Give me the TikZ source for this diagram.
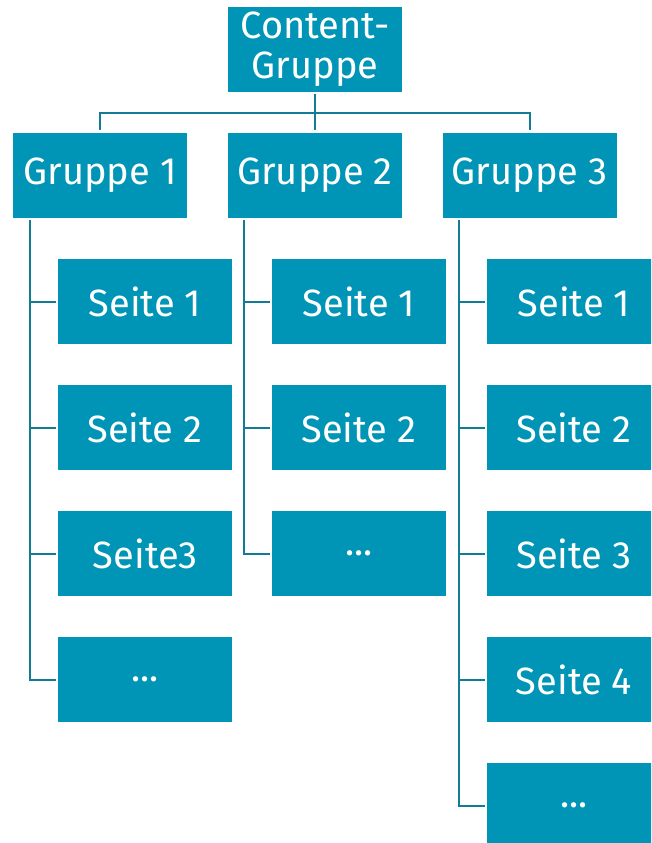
\documentclass[tikz,border=0pt]{standalone}
\usepackage{fontspec}
\setmainfont{Fira Sans}
\definecolor{boxfill}{RGB}{0,149,182}
\definecolor{linecol}{RGB}{18,124,150}
\begin{document}
\begin{tikzpicture}[x=1pt,y=-1pt,
  box/.style={rectangle, fill=boxfill, text=white, minimum width=174pt, minimum height=85pt,
    inner sep=0pt, font=\fontsize{38}{40}\selectfont, align=center},
  conn/.style={draw=linecol, line width=2pt}]
\useasboundingbox (0,0) rectangle (651,843);
\clip (0,0) rectangle (651,843);
\node[box] (cg) at (315,49.5) {Content-\\Gruppe};
\node[box] (g1) at (100,175) {Gruppe 1};
\node[box] (g2) at (315,175) {Gruppe 2};
\node[box] (g3) at (529.5,175) {Gruppe 3};
% column 1
\node[box] (a1) at (145,301.5) {Seite 1};
\node[box] (a2) at (145,427.5) {Seite 2};
\node[box] (a3) at (145,553.5) {Seite3};
\node[box] (a4) at (145,679.5) {...};
% column 2
\node[box] (b1) at (359,301.5) {Seite 1};
\node[box] (b2) at (359,427.5) {Seite 2};
\node[box] (b3) at (359,553.5) {...};
% column 3
\node[box] (c1) at (574,301.5) {Seite 1};
\node[box] (c2) at (574,427.5) {Seite 2};
\node[box] (c3) at (574,553.5) {Seite 3};
\node[box] (c4) at (574,679.5) {Seite 4};
\node[box] (c5) at (574,805.5) {...};
% top connectors
\coordinate (bar) at (315,113);
\draw[conn, shorten <=2pt] (cg.south) -- (bar);
\draw[conn, shorten >=2pt] (bar) -| (g1.north);
\draw[conn, shorten >=2pt] (bar) -| (g3.north);
\draw[conn, shorten >=2pt] (bar) -- (g2.north);
% spines
\coordinate (p1) at ([xshift=17pt]g1.south west);
\coordinate (p2) at ([xshift=16pt]g2.south west);
\coordinate (p3) at ([xshift=17pt]g3.south west);
\draw[conn, shorten <=2pt] (p1) |- ([xshift=-2pt]a4.west);
\draw[conn, shorten <=2pt] (p2) |- ([xshift=-2pt]b3.west);
\draw[conn, shorten <=2pt] (p3) |- ([xshift=-2pt]c5.west);
\foreach \n in {a1,a2,a3}{\draw[conn, shorten <=2pt] (\n.west) -- (\n.west -| p1);}
\foreach \n in {b1,b2}{\draw[conn, shorten <=2pt] (\n.west) -- (\n.west -| p2);}
\foreach \n in {c1,c2,c3,c4}{\draw[conn, shorten <=2pt] (\n.west) -- (\n.west -| p3);}
\end{tikzpicture}
\end{document}
